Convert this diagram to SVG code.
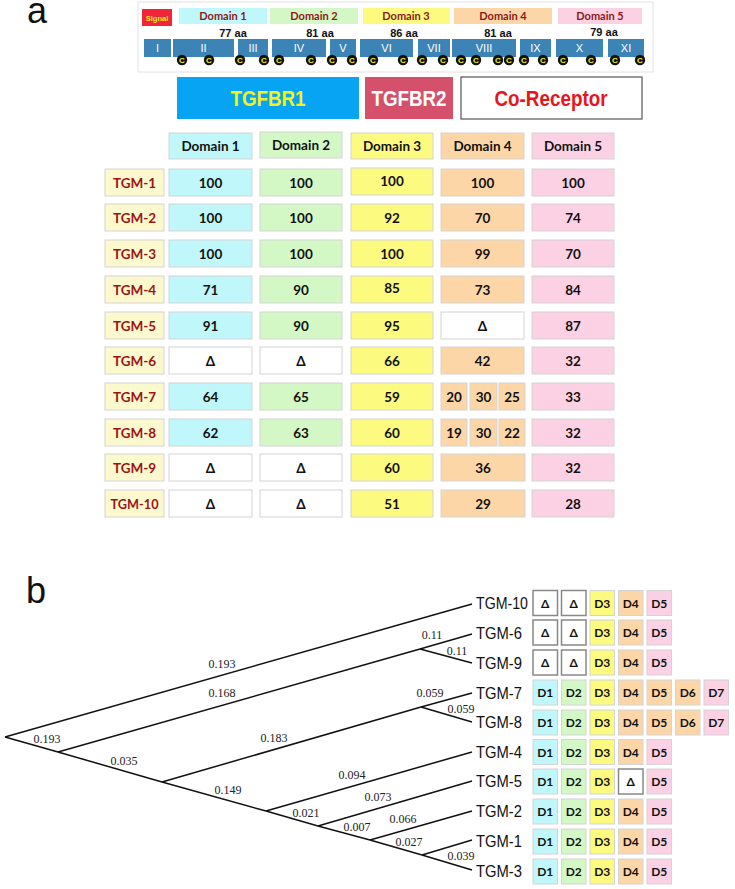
<svg xmlns="http://www.w3.org/2000/svg" width="735" height="889" viewBox="0 0 735 889">
<style>
.cell{stroke:#d4d4d4;stroke-width:1}
.c1{fill:#bff7fa}.c2{fill:#d3f8c5}.c3{fill:#fdfa80}.c4{fill:#fdd6a8}.c5{fill:#fbd1e3}.lab{fill:#fdf9cf}.del{fill:#fff}
.t{font-family:Lato,"Open Sans",sans-serif;font-weight:bold;font-size:13.5px;text-anchor:middle;fill:#111}
.tl{font-family:Lato,"Open Sans",sans-serif;font-weight:bold;font-size:13.5px;text-anchor:middle;fill:#9b1414}
.br{font-family:"Liberation Serif","Times New Roman",serif;font-size:12px;fill:#222;text-anchor:middle}
.tip{font-family:"Liberation Sans",Arial,sans-serif;font-size:17px;fill:#111}
.edge{stroke:#111;stroke-width:1.5;fill:none}
.ex{fill:#3d84b6}
.ext{font-family:"Liberation Sans",Arial,sans-serif;font-size:11px;fill:#fff;text-anchor:middle}
.cc{fill:#111}
.ct{font-family:"Liberation Sans",Arial,sans-serif;font-weight:bold;font-size:8px;fill:#f5ee20;text-anchor:middle}
.dl{font-family:Lato,"Open Sans",sans-serif;font-weight:bold;font-size:11px;fill:#8b1a1a;text-anchor:middle}
.aa{font-family:"Liberation Sans",Arial,sans-serif;font-weight:bold;font-size:11px;fill:#111;text-anchor:middle}
.tb{stroke:#d4d4d4;stroke-width:1}
.tdel{fill:#fff;stroke:#888;stroke-width:1.5}
.tt{font-family:Lato,"Open Sans",sans-serif;font-weight:bold;font-size:12px;text-anchor:middle;fill:#111}
.big{font-family:"Liberation Sans",Arial,sans-serif;font-size:36px;fill:#111}
.hd{font-family:"Liberation Sans",Arial,sans-serif;font-weight:bold;font-size:22px;text-anchor:middle}
</style>

<text class="big" x="27" y="23">a</text>
<text class="big" x="26" y="603">b</text>

<!-- top domain panel -->
<g id="domain-map">
<rect x="138" y="2" width="515" height="70" fill="#fff" stroke="#e2e2e2" stroke-width="1"/>
<g id="signal"><rect x="142" y="9" width="30" height="17" fill="#f2243a"/><text class="ct" x="157" y="20.5" style="font-size:7.5px">Signal</text></g>
<g id="dom1"><rect x="179" y="8" width="88" height="16" class="c1"/><text class="dl" x="223" y="20">Domain 1</text></g>
<g id="dom2"><rect x="270" y="8" width="88" height="16" class="c2"/><text class="dl" x="314" y="20">Domain 2</text></g>
<g id="dom3"><rect x="363" y="8" width="87" height="16" class="c3"/><text class="dl" x="406" y="20">Domain 3</text></g>
<g id="dom4"><rect x="454" y="8" width="98" height="16" class="c4"/><text class="dl" x="503" y="20">Domain 4</text></g>
<g id="dom5"><rect x="558" y="8" width="84" height="16" class="c5"/><text class="dl" x="600" y="20">Domain 5</text></g>
<text class="aa" x="233" y="37">77 aa</text>
<text class="aa" x="320" y="37">81 aa</text>
<text class="aa" x="404" y="37">86 aa</text>
<text class="aa" x="498" y="37">81 aa</text>
<text class="aa" x="604" y="36">79 aa</text>
<g id="exons">
<rect class="ex" x="144" y="39" width="27" height="18"/><text class="ext" x="157.5" y="52">I</text>
<rect class="ex" x="173" y="39" width="61" height="18"/><text class="ext" x="203.5" y="52">II</text>
<rect class="ex" x="238" y="39" width="30" height="18"/><text class="ext" x="253" y="52">III</text>
<rect class="ex" x="272" y="39" width="54" height="18"/><text class="ext" x="299" y="52">IV</text>
<rect class="ex" x="330" y="39" width="26" height="18"/><text class="ext" x="343" y="52">V</text>
<rect class="ex" x="360" y="39" width="53" height="18"/><text class="ext" x="386.5" y="52">VI</text>
<rect class="ex" x="418" y="39" width="32" height="18"/><text class="ext" x="434" y="52">VII</text>
<rect class="ex" x="452" y="39" width="64" height="18"/><text class="ext" x="484" y="52">VIII</text>
<rect class="ex" x="520" y="39" width="31" height="18"/><text class="ext" x="535.5" y="52">IX</text>
<rect class="ex" x="556" y="39" width="47" height="18"/><text class="ext" x="579.5" y="52">X</text>
<rect class="ex" x="608" y="39" width="36" height="18"/><text class="ext" x="626" y="52">XI</text>
</g>
<g id="cysteines">
<circle class="cc" cx="182" cy="60" r="5.2"/><text class="ct" x="182" y="63">C</text>
<circle class="cc" cx="209" cy="60" r="5.2"/><text class="ct" x="209" y="63">C</text>
<circle class="cc" cx="240" cy="60" r="5.2"/><text class="ct" x="240" y="63">C</text>
<circle class="cc" cx="264" cy="60" r="5.2"/><text class="ct" x="264" y="63">C</text>
<circle class="cc" cx="279" cy="60" r="5.2"/><text class="ct" x="279" y="63">C</text>
<circle class="cc" cx="311" cy="60" r="5.2"/><text class="ct" x="311" y="63">C</text>
<circle class="cc" cx="332" cy="60" r="5.2"/><text class="ct" x="332" y="63">C</text>
<circle class="cc" cx="352" cy="60" r="5.2"/><text class="ct" x="352" y="63">C</text>
<circle class="cc" cx="373" cy="60" r="5.2"/><text class="ct" x="373" y="63">C</text>
<circle class="cc" cx="403" cy="60" r="5.2"/><text class="ct" x="403" y="63">C</text>
<circle class="cc" cx="422" cy="60" r="5.2"/><text class="ct" x="422" y="63">C</text>
<circle class="cc" cx="443" cy="60" r="5.2"/><text class="ct" x="443" y="63">C</text>
<circle class="cc" cx="461" cy="60" r="5.2"/><text class="ct" x="461" y="63">C</text>
<circle class="cc" cx="476" cy="60" r="5.2"/><text class="ct" x="476" y="63">C</text>
<circle class="cc" cx="498" cy="60" r="5.2"/><text class="ct" x="498" y="63">C</text>
<circle class="cc" cx="509" cy="60" r="5.2"/><text class="ct" x="509" y="63">C</text>
<circle class="cc" cx="524" cy="60" r="5.2"/><text class="ct" x="524" y="63">C</text>
<circle class="cc" cx="543" cy="60" r="5.2"/><text class="ct" x="543" y="63">C</text>
<circle class="cc" cx="563" cy="60" r="5.2"/><text class="ct" x="563" y="63">C</text>
<circle class="cc" cx="591" cy="60" r="5.2"/><text class="ct" x="591" y="63">C</text>
<circle class="cc" cx="615" cy="60" r="5.2"/><text class="ct" x="615" y="63">C</text>
<circle class="cc" cx="640" cy="60" r="5.2"/><text class="ct" x="640" y="63">C</text>
</g>
</g>

<!-- receptor headers -->
<g id="tgfbr1"><rect x="177" y="77" width="182" height="42" fill="#07a4f4"/><text class="hd" x="268" y="106" fill="#f6f01e" textLength="75" lengthAdjust="spacingAndGlyphs">TGFBR1</text></g>
<g id="tgfbr2"><rect x="365" y="77" width="88" height="42" fill="#d5506b"/><text class="hd" x="409" y="106" fill="#fff" textLength="75" lengthAdjust="spacingAndGlyphs">TGFBR2</text></g>
<g id="coreceptor"><rect x="461" y="77" width="181" height="42" fill="#fff" stroke="#555" stroke-width="1.2"/><text class="hd" x="551" y="106" fill="#e8141e" textLength="113" lengthAdjust="spacingAndGlyphs">Co-Receptor</text></g>

<!-- table -->
<g id="table-header">
<rect class="cell c1" x="169" y="133" width="83" height="26"/><text class="t" x="210.5" y="150.5">Domain 1</text>
<rect class="cell c2" x="260" y="132" width="82" height="26"/><text class="t" x="301" y="149.5">Domain 2</text>
<rect class="cell c3" x="351" y="133" width="82" height="26"/><text class="t" x="392" y="150.5">Domain 3</text>
<rect class="cell c4" x="441" y="133" width="83" height="26"/><text class="t" x="482.5" y="150.5">Domain 4</text>
<rect class="cell c5" x="532" y="133" width="82" height="26"/><text class="t" x="573" y="150.5">Domain 5</text>
</g>

<g id="row-tgm1">
<rect class="cell lab" x="105" y="169" width="59" height="27"/><text class="tl" x="134.5" y="187.5">TGM-1</text>
<rect class="cell c1" x="169" y="169" width="83" height="27"/><text class="t" x="210.5" y="187.5">100</text>
<rect class="cell c2" x="260" y="169" width="82" height="27"/><text class="t" x="301" y="187.5">100</text>
<rect class="cell c3" x="351" y="168" width="82" height="27"/><text class="t" x="392" y="185.5">100</text>
<rect class="cell c4" x="441" y="169" width="83" height="27"/><text class="t" x="482.5" y="187.5">100</text>
<rect class="cell c5" x="532" y="169" width="82" height="27"/><text class="t" x="573" y="187.5">100</text>
</g>
<g id="row-tgm2">
<rect class="cell lab" x="105" y="204" width="59" height="27"/><text class="tl" x="134.5" y="222.5">TGM-2</text>
<rect class="cell c1" x="169" y="204" width="83" height="27"/><text class="t" x="210.5" y="222.5">100</text>
<rect class="cell c2" x="260" y="204" width="82" height="27"/><text class="t" x="301" y="222.5">100</text>
<rect class="cell c3" x="351" y="204" width="82" height="27"/><text class="t" x="392" y="222.5">92</text>
<rect class="cell c4" x="441" y="204" width="83" height="27"/><text class="t" x="482.5" y="222.5">70</text>
<rect class="cell c5" x="532" y="204" width="82" height="27"/><text class="t" x="573" y="222.5">74</text>
</g>
<g id="row-tgm3">
<rect class="cell lab" x="105" y="240" width="59" height="27"/><text class="tl" x="134.5" y="258.5">TGM-3</text>
<rect class="cell c1" x="169" y="240" width="83" height="27"/><text class="t" x="210.5" y="258.5">100</text>
<rect class="cell c2" x="260" y="240" width="82" height="27"/><text class="t" x="301" y="258.5">100</text>
<rect class="cell c3" x="351" y="240" width="82" height="27"/><text class="t" x="392" y="258.5">100</text>
<rect class="cell c4" x="441" y="240" width="83" height="27"/><text class="t" x="482.5" y="258.5">99</text>
<rect class="cell c5" x="532" y="240" width="82" height="27"/><text class="t" x="573" y="258.5">70</text>
</g>
<g id="row-tgm4">
<rect class="cell lab" x="105" y="276" width="59" height="27"/><text class="tl" x="134.5" y="294.5">TGM-4</text>
<rect class="cell c1" x="169" y="276" width="83" height="27"/><text class="t" x="210.5" y="294.5">71</text>
<rect class="cell c2" x="260" y="276" width="82" height="27"/><text class="t" x="301" y="294.5">90</text>
<rect class="cell c3" x="351" y="276" width="82" height="27"/><text class="t" x="392" y="292.5">85</text>
<rect class="cell c4" x="441" y="276" width="83" height="27"/><text class="t" x="482.5" y="294.5">73</text>
<rect class="cell c5" x="532" y="276" width="82" height="27"/><text class="t" x="573" y="294.5">84</text>
</g>
<g id="row-tgm5">
<rect class="cell lab" x="105" y="312" width="59" height="27"/><text class="tl" x="134.5" y="330.5">TGM-5</text>
<rect class="cell c1" x="169" y="312" width="83" height="27"/><text class="t" x="210.5" y="330.5">91</text>
<rect class="cell c2" x="260" y="312" width="82" height="27"/><text class="t" x="301" y="330.5">90</text>
<rect class="cell c3" x="351" y="312" width="82" height="27"/><text class="t" x="392" y="330.5">95</text>
<rect class="cell del" x="441" y="312" width="83" height="27"/><text class="t" x="482.5" y="330.5">Δ</text>
<rect class="cell c5" x="532" y="312" width="82" height="27"/><text class="t" x="573" y="330.5">87</text>
</g>
<g id="row-tgm6">
<rect class="cell lab" x="105" y="347" width="59" height="27"/><text class="tl" x="134.5" y="365.5">TGM-6</text>
<rect class="cell del" x="169" y="347" width="83" height="27"/><text class="t" x="210.5" y="365.5">Δ</text>
<rect class="cell del" x="260" y="347" width="82" height="27"/><text class="t" x="301" y="365.5">Δ</text>
<rect class="cell c3" x="351" y="347" width="82" height="27"/><text class="t" x="392" y="365.5">66</text>
<rect class="cell c4" x="441" y="347" width="83" height="27"/><text class="t" x="482.5" y="365.5">42</text>
<rect class="cell c5" x="532" y="347" width="82" height="27"/><text class="t" x="573" y="365.5">32</text>
</g>
<g id="row-tgm7">
<rect class="cell lab" x="105" y="383" width="59" height="27"/><text class="tl" x="134.5" y="401.5">TGM-7</text>
<rect class="cell c1" x="169" y="383" width="83" height="27"/><text class="t" x="210.5" y="401.5">64</text>
<rect class="cell c2" x="260" y="383" width="82" height="27"/><text class="t" x="301" y="401.5">65</text>
<rect class="cell c3" x="351" y="383" width="82" height="27"/><text class="t" x="392" y="401.5">59</text>
<rect class="cell c4" x="441" y="383" width="26" height="27"/><text class="t" x="454" y="401.5">20</text>
<rect class="cell c4" x="470" y="383" width="27" height="27"/><text class="t" x="483.5" y="401.5">30</text>
<rect class="cell c4" x="499" y="383" width="26" height="27"/><text class="t" x="512" y="401.5">25</text>
<rect class="cell c5" x="532" y="383" width="82" height="27"/><text class="t" x="573" y="401.5">33</text>
</g>
<g id="row-tgm8">
<rect class="cell lab" x="105" y="419" width="59" height="27"/><text class="tl" x="134.5" y="437.5">TGM-8</text>
<rect class="cell c1" x="169" y="419" width="83" height="27"/><text class="t" x="210.5" y="437.5">62</text>
<rect class="cell c2" x="260" y="419" width="82" height="27"/><text class="t" x="301" y="437.5">63</text>
<rect class="cell c3" x="351" y="419" width="82" height="27"/><text class="t" x="392" y="437.5">60</text>
<rect class="cell c4" x="441" y="419" width="26" height="27"/><text class="t" x="454" y="437.5">19</text>
<rect class="cell c4" x="470" y="419" width="27" height="27"/><text class="t" x="483.5" y="437.5">30</text>
<rect class="cell c4" x="499" y="419" width="26" height="27"/><text class="t" x="512" y="437.5">22</text>
<rect class="cell c5" x="532" y="419" width="82" height="27"/><text class="t" x="573" y="437.5">32</text>
</g>
<g id="row-tgm9">
<rect class="cell lab" x="105" y="454" width="59" height="27"/><text class="tl" x="134.5" y="472.5">TGM-9</text>
<rect class="cell del" x="169" y="454" width="83" height="27"/><text class="t" x="210.5" y="472.5">Δ</text>
<rect class="cell del" x="260" y="454" width="82" height="27"/><text class="t" x="301" y="472.5">Δ</text>
<rect class="cell c3" x="351" y="454" width="82" height="27"/><text class="t" x="392" y="472.5">60</text>
<rect class="cell c4" x="441" y="454" width="84" height="27"/><text class="t" x="483" y="472.5">36</text>
<rect class="cell c5" x="532" y="454" width="82" height="27"/><text class="t" x="573" y="472.5">32</text>
</g>
<g id="row-tgm10">
<rect class="cell lab" x="105" y="490" width="59" height="27"/><text class="tl" x="134.5" y="508.5" textLength="48" lengthAdjust="spacingAndGlyphs">TGM-10</text>
<rect class="cell del" x="169" y="490" width="83" height="27"/><text class="t" x="210.5" y="508.5">Δ</text>
<rect class="cell del" x="260" y="490" width="82" height="27"/><text class="t" x="301" y="508.5">Δ</text>
<rect class="cell c3" x="351" y="490" width="82" height="27"/><text class="t" x="392" y="508.5">51</text>
<rect class="cell c4" x="441" y="490" width="84" height="27"/><text class="t" x="483" y="508.5">29</text>
<rect class="cell c5" x="532" y="490" width="82" height="27"/><text class="t" x="573" y="508.5">28</text>
</g>

<!-- tree connectors -->
<g id="tree-edges" class="edge">
<line x1="5" y1="737" x2="472" y2="604"/>
<line x1="5" y1="737" x2="58" y2="752"/>
<line x1="58" y1="752" x2="420" y2="649"/>
<line x1="420" y1="649" x2="472" y2="634"/>
<line x1="420" y1="649" x2="472" y2="663"/>
<line x1="58" y1="752" x2="162" y2="782"/>
<line x1="162" y1="782" x2="421" y2="707"/>
<line x1="421" y1="707" x2="472" y2="693"/>
<line x1="421" y1="707" x2="472" y2="722"/>
<line x1="162" y1="782" x2="266" y2="811"/>
<line x1="266" y1="811" x2="472" y2="752"/>
<line x1="266" y1="811" x2="318" y2="826"/>
<line x1="318" y1="826" x2="472" y2="781"/>
<line x1="318" y1="826" x2="370" y2="840"/>
<line x1="370" y1="840" x2="472" y2="811"/>
<line x1="370" y1="840" x2="422" y2="855"/>
<line x1="422" y1="855" x2="472" y2="840"/>
<line x1="422" y1="855" x2="472" y2="870"/>
</g>
<g id="branch-lengths">
<text class="br" x="222" y="668">0.193</text>
<text class="br" x="222" y="697">0.168</text>
<text class="br" x="432" y="639">0.11</text>
<text class="br" x="457" y="655">0.11</text>
<text class="br" x="430" y="697">0.059</text>
<text class="br" x="461" y="713">0.059</text>
<text class="br" x="47" y="743">0.193</text>
<text class="br" x="124" y="765">0.035</text>
<text class="br" x="274" y="742">0.183</text>
<text class="br" x="228" y="794">0.149</text>
<text class="br" x="352" y="779">0.094</text>
<text class="br" x="306" y="817">0.021</text>
<text class="br" x="378" y="801">0.073</text>
<text class="br" x="357" y="831">0.007</text>
<text class="br" x="403" y="823">0.066</text>
<text class="br" x="409" y="846">0.027</text>
<text class="br" x="461" y="860">0.039</text>
</g>

<!-- tree leaves -->
<g id="leaf-tgm10"><text class="tip" x="476" y="609" textLength="52" lengthAdjust="spacingAndGlyphs">TGM-10</text>
<rect class="tdel" x="533" y="590.5" width="24.5" height="25"/><text class="tt" x="545.25" y="607.5">Δ</text>
<rect class="tdel" x="561.5" y="590.5" width="24.5" height="25"/><text class="tt" x="573.75" y="607.5">Δ</text>
<rect class="tb c3" x="590" y="590.5" width="24.5" height="25"/><text class="tt" x="602.25" y="607.5">D3</text>
<rect class="tb c4" x="618.5" y="590.5" width="24.5" height="25"/><text class="tt" x="630.75" y="607.5">D4</text>
<rect class="tb c5" x="647" y="590.5" width="24.5" height="25"/><text class="tt" x="659.25" y="607.5">D5</text></g>
<g id="leaf-tgm6"><text class="tip" x="476" y="639" textLength="46" lengthAdjust="spacingAndGlyphs">TGM-6</text>
<rect class="tdel" x="533" y="620" width="24.5" height="25"/><text class="tt" x="545.25" y="637">Δ</text>
<rect class="tdel" x="561.5" y="620" width="24.5" height="25"/><text class="tt" x="573.75" y="637">Δ</text>
<rect class="tb c3" x="590" y="620" width="24.5" height="25"/><text class="tt" x="602.25" y="637">D3</text>
<rect class="tb c4" x="618.5" y="620" width="24.5" height="25"/><text class="tt" x="630.75" y="637">D4</text>
<rect class="tb c5" x="647" y="620" width="24.5" height="25"/><text class="tt" x="659.25" y="637">D5</text></g>
<g id="leaf-tgm9"><text class="tip" x="476" y="669" textLength="46" lengthAdjust="spacingAndGlyphs">TGM-9</text>
<rect class="tdel" x="533" y="650" width="24.5" height="25"/><text class="tt" x="545.25" y="667">Δ</text>
<rect class="tdel" x="561.5" y="650" width="24.5" height="25"/><text class="tt" x="573.75" y="667">Δ</text>
<rect class="tb c3" x="590" y="650" width="24.5" height="25"/><text class="tt" x="602.25" y="667">D3</text>
<rect class="tb c4" x="618.5" y="650" width="24.5" height="25"/><text class="tt" x="630.75" y="667">D4</text>
<rect class="tb c5" x="647" y="650" width="24.5" height="25"/><text class="tt" x="659.25" y="667">D5</text></g>
<g id="leaf-tgm7"><text class="tip" x="476" y="699" textLength="46" lengthAdjust="spacingAndGlyphs">TGM-7</text>
<rect class="tb c1" x="533" y="680" width="24.5" height="25"/><text class="tt" x="545.25" y="697">D1</text>
<rect class="tb c2" x="561.5" y="680" width="24.5" height="25"/><text class="tt" x="573.75" y="697">D2</text>
<rect class="tb c3" x="590" y="680" width="24.5" height="25"/><text class="tt" x="602.25" y="697">D3</text>
<rect class="tb c4" x="618.5" y="680" width="24.5" height="25"/><text class="tt" x="630.75" y="697">D4</text>
<rect class="tb c4" x="647" y="680" width="24.5" height="25"/><text class="tt" x="659.25" y="697">D5</text>
<rect class="tb c4" x="675.5" y="680" width="24.5" height="25"/><text class="tt" x="687.75" y="697">D6</text>
<rect class="tb c5" x="704" y="680" width="24.5" height="25"/><text class="tt" x="716.25" y="697">D7</text></g>
<g id="leaf-tgm8"><text class="tip" x="476" y="728" textLength="46" lengthAdjust="spacingAndGlyphs">TGM-8</text>
<rect class="tb c1" x="533" y="710" width="24.5" height="25"/><text class="tt" x="545.25" y="727">D1</text>
<rect class="tb c2" x="561.5" y="710" width="24.5" height="25"/><text class="tt" x="573.75" y="727">D2</text>
<rect class="tb c3" x="590" y="710" width="24.5" height="25"/><text class="tt" x="602.25" y="727">D3</text>
<rect class="tb c4" x="618.5" y="710" width="24.5" height="25"/><text class="tt" x="630.75" y="727">D4</text>
<rect class="tb c4" x="647" y="710" width="24.5" height="25"/><text class="tt" x="659.25" y="727">D5</text>
<rect class="tb c4" x="675.5" y="710" width="24.5" height="25"/><text class="tt" x="687.75" y="727">D6</text>
<rect class="tb c5" x="704" y="710" width="24.5" height="25"/><text class="tt" x="716.25" y="727">D7</text></g>
<g id="leaf-tgm4"><text class="tip" x="476" y="758" textLength="46" lengthAdjust="spacingAndGlyphs">TGM-4</text>
<rect class="tb c1" x="533" y="739.5" width="24.5" height="25"/><text class="tt" x="545.25" y="756.5">D1</text>
<rect class="tb c2" x="561.5" y="739.5" width="24.5" height="25"/><text class="tt" x="573.75" y="756.5">D2</text>
<rect class="tb c3" x="590" y="739.5" width="24.5" height="25"/><text class="tt" x="602.25" y="756.5">D3</text>
<rect class="tb c4" x="618.5" y="739.5" width="24.5" height="25"/><text class="tt" x="630.75" y="756.5">D4</text>
<rect class="tb c5" x="647" y="739.5" width="24.5" height="25"/><text class="tt" x="659.25" y="756.5">D5</text></g>
<g id="leaf-tgm5"><text class="tip" x="476" y="787" textLength="46" lengthAdjust="spacingAndGlyphs">TGM-5</text>
<rect class="tb c1" x="533" y="769" width="24.5" height="25"/><text class="tt" x="545.25" y="786">D1</text>
<rect class="tb c2" x="561.5" y="769" width="24.5" height="25"/><text class="tt" x="573.75" y="786">D2</text>
<rect class="tb c3" x="590" y="769" width="24.5" height="25"/><text class="tt" x="602.25" y="786">D3</text>
<rect class="tdel" x="618.5" y="769" width="24.5" height="25"/><text class="tt" x="630.75" y="786">Δ</text>
<rect class="tb c5" x="647" y="769" width="24.5" height="25"/><text class="tt" x="659.25" y="786">D5</text></g>
<g id="leaf-tgm2"><text class="tip" x="476" y="817" textLength="46" lengthAdjust="spacingAndGlyphs">TGM-2</text>
<rect class="tb c1" x="533" y="799" width="24.5" height="25"/><text class="tt" x="545.25" y="816">D1</text>
<rect class="tb c2" x="561.5" y="799" width="24.5" height="25"/><text class="tt" x="573.75" y="816">D2</text>
<rect class="tb c3" x="590" y="799" width="24.5" height="25"/><text class="tt" x="602.25" y="816">D3</text>
<rect class="tb c4" x="618.5" y="799" width="24.5" height="25"/><text class="tt" x="630.75" y="816">D4</text>
<rect class="tb c5" x="647" y="799" width="24.5" height="25"/><text class="tt" x="659.25" y="816">D5</text></g>
<g id="leaf-tgm1"><text class="tip" x="476" y="847" textLength="46" lengthAdjust="spacingAndGlyphs">TGM-1</text>
<rect class="tb c1" x="533" y="829" width="24.5" height="25"/><text class="tt" x="545.25" y="846">D1</text>
<rect class="tb c2" x="561.5" y="829" width="24.5" height="25"/><text class="tt" x="573.75" y="846">D2</text>
<rect class="tb c3" x="590" y="829" width="24.5" height="25"/><text class="tt" x="602.25" y="846">D3</text>
<rect class="tb c4" x="618.5" y="829" width="24.5" height="25"/><text class="tt" x="630.75" y="846">D4</text>
<rect class="tb c5" x="647" y="829" width="24.5" height="25"/><text class="tt" x="659.25" y="846">D5</text></g>
<g id="leaf-tgm3"><text class="tip" x="476" y="877" textLength="46" lengthAdjust="spacingAndGlyphs">TGM-3</text>
<rect class="tb c1" x="533" y="859" width="24.5" height="25"/><text class="tt" x="545.25" y="876">D1</text>
<rect class="tb c2" x="561.5" y="859" width="24.5" height="25"/><text class="tt" x="573.75" y="876">D2</text>
<rect class="tb c3" x="590" y="859" width="24.5" height="25"/><text class="tt" x="602.25" y="876">D3</text>
<rect class="tb c4" x="618.5" y="859" width="24.5" height="25"/><text class="tt" x="630.75" y="876">D4</text>
<rect class="tb c5" x="647" y="859" width="24.5" height="25"/><text class="tt" x="659.25" y="876">D5</text></g>
</svg>
